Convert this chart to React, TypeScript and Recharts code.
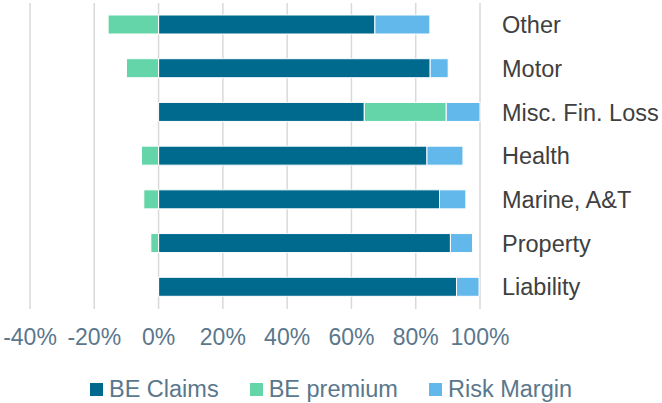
import { Bar, BarChart, CartesianGrid, XAxis, YAxis } from 'recharts'

const categories = [
  'Other',
  'Motor',
  'Misc. Fin. Loss',
  'Health',
  'Marine, A&T',
  'Property',
  'Liability',
]
const beClaims = [67.3, 84.5, 64.0, 83.5, 87.4, 90.8, 92.7]
const bePremium = [-15.7, -10.0, 25.5, -5.3, -4.6, -2.4, -0.3]
const riskMargin = [17.1, 5.6, 10.5, 11.2, 8.2, 6.9, 7.0]
const xTicks = [-40, -20, 0, 20, 40, 60, 80, 100]

const series = [
  { key: 'claims', label: 'BE Claims', color: '#006a8e' },
  { key: 'premium', label: 'BE premium', color: '#63d5a8' },
  { key: 'risk', label: 'Risk Margin', color: '#62b8ea' },
]

const font = "'Liberation Sans', Arial, sans-serif"
const axisGrey = '#5b778c'

const chartData = categories.map((name, i) => ({
  name,
  claims: beClaims[i],
  premium: bePremium[i],
  risk: riskMargin[i],
}))

function LegendRow() {
  return (
    <div
      style={{
        position: 'absolute',
        left: 0,
        top: 376,
        width: 662,
        display: 'flex',
        justifyContent: 'center',
        gap: 31,
        fontFamily: font,
        fontSize: 23.5,
        color: axisGrey,
        lineHeight: '26px',
      }}
    >
      {series.map((s) => (
        <div key={s.key} style={{ display: 'flex', alignItems: 'center' }}>
          <span
            style={{
              width: 13,
              height: 13,
              background: s.color,
              marginRight: 6,
              display: 'inline-block',
            }}
          />
          <span>{s.label}</span>
        </div>
      ))}
    </div>
  )
}

export default function App() {
  return (
    <div style={{ position: 'absolute', left: 0, top: 0, width: 662, height: 403 }}>
      <BarChart
        width={662}
        height={403}
        data={chartData}
        layout='vertical'
        stackOffset='sign'
        margin={{ top: 3, right: 0, left: 30, bottom: 0 }}
      >
        <CartesianGrid horizontal={false} stroke='#d9d9d9' strokeWidth={1.5} />
        <XAxis
          type='number'
          domain={[-40, 100]}
          ticks={xTicks}
          tickFormatter={(v) => `${v}%`}
          axisLine={false}
          tickLine={false}
          tickMargin={14}
          height={94}
          interval={0}
          tick={{ fill: axisGrey, fontSize: 23, fontFamily: font }}
        />
        <YAxis
          type='category'
          dataKey='name'
          orientation='right'
          width={182}
          axisLine={false}
          tickLine={false}
          tickMargin={16}
          interval={0}
          tick={{ fill: '#404040', fontSize: 23.5, fontFamily: font, textAnchor: 'start' }}
        />
        {series.map((s) => (
          <Bar
            key={s.key}
            dataKey={s.key}
            stackId='a'
            fill={s.color}
            stroke='#ffffff'
            strokeWidth={1}
            barSize={19}
            isAnimationActive={false}
          />
        ))}
      </BarChart>
      <LegendRow />
    </div>
  )
}
